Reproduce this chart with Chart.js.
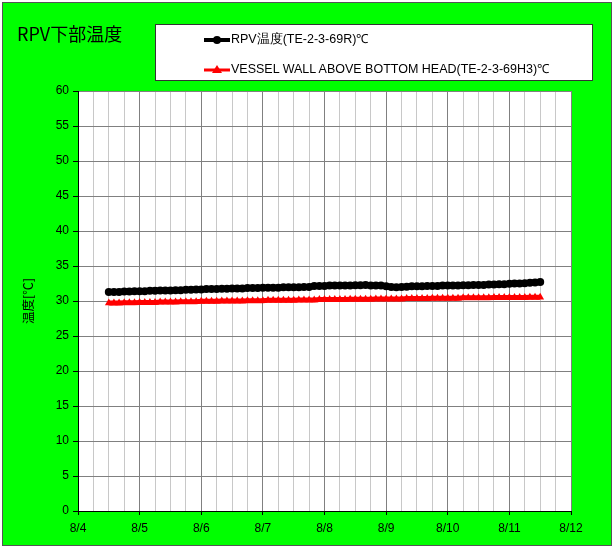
<!DOCTYPE html>
<html>
<head>
<meta charset="utf-8">
<script src="https://cdn.jsdelivr.net/npm/chart.js"></script>
<style>
  body { margin: 0; background: #fff; }
  #wrap { position: absolute; left: 2px; top: 2px; width: 608px; height: 542px; border: 1px solid #555; background: #00ff00; }
  #c { position: absolute; left: -3px; top: -3px; }
  #title { position: absolute; left: 14px; top: 17px; font: 18px "Noto Sans CJK JP", sans-serif; color: #000; }
  #legend { position: absolute; left: 152px; top: 21px; width: 436px; height: 55px; background: #fff; border: 1px solid #333; font: 12.5px "Liberation Sans", Arial, sans-serif; }
  .item { position: absolute; left: 48px; height: 14px; line-height: 14px; white-space: nowrap; }
  .item svg { vertical-align: middle; margin-right: 1px; }
</style>
</head>
<body>
<div id="wrap">
  <canvas id="c" width="614" height="548"></canvas>
  <div id="title">RPV下部温度</div>
  <div id="legend">
    <div class="item" style="top:7px"><svg width="26" height="10"><line x1="0" y1="5" x2="26" y2="5" stroke="#000" stroke-width="4"/><circle cx="13" cy="5" r="4" fill="#000"/></svg>RPV温度(TE-2-3-69R)℃</div>
    <div class="item" style="top:37px"><svg width="26" height="10"><line x1="0" y1="5" x2="26" y2="5" stroke="#f00" stroke-width="3"/><polygon points="13,0 18,8 8,8" fill="#f00"/></svg>VESSEL WALL ABOVE BOTTOM HEAD(TE-2-3-69H3)℃</div>
  </div>
</div>
<script>
// hours since 8/4 0:00, every 2 hours from 8/4 12:00
var startHour = 12;
var stepHour = 2;
var xTickDays = ["8/4", "8/5", "8/6", "8/7", "8/8", "8/9", "8/10", "8/11", "8/12"];

var rpvTemp = [
  31.3, 31.3, 31.3, 31.35, 31.35, 31.4, 31.4, 31.4, 31.45, 31.45, 31.5, 31.5,
  31.5, 31.55, 31.55, 31.6, 31.6, 31.65, 31.65, 31.7, 31.7, 31.7, 31.75, 31.75,
  31.8, 31.8, 31.8, 31.85, 31.85, 31.85, 31.9, 31.9, 31.9, 31.9, 31.95, 31.95,
  31.95, 31.95, 32.0, 32.0, 32.15, 32.15, 32.15, 32.2, 32.2, 32.2, 32.2, 32.2,
  32.25, 32.25, 32.3, 32.2, 32.2, 32.2, 32.1, 32.0, 31.95, 32.0, 32.05, 32.1,
  32.1, 32.1, 32.15, 32.15, 32.15, 32.2, 32.2, 32.2, 32.2, 32.25, 32.25, 32.3,
  32.3, 32.3, 32.35, 32.35, 32.4, 32.4, 32.45, 32.5, 32.5, 32.55, 32.6, 32.65,
  32.7
];
var wallTemp = [
  29.7, 29.7, 29.7, 29.75, 29.75, 29.75, 29.8, 29.8, 29.8, 29.8, 29.85, 29.85,
  29.85, 29.85, 29.9, 29.9, 29.9, 29.9, 29.95, 29.95, 29.95, 29.95, 30.0, 30.0,
  30.0, 30.0, 30.0, 30.05, 30.05, 30.05, 30.05, 30.1, 30.1, 30.1, 30.1, 30.1,
  30.1, 30.15, 30.15, 30.15, 30.15, 30.2, 30.2, 30.2, 30.2, 30.2, 30.2, 30.25,
  30.25, 30.25, 30.25, 30.25, 30.3, 30.3, 30.3, 30.3, 30.3, 30.3, 30.35, 30.35,
  30.35, 30.35, 30.35, 30.4, 30.4, 30.4, 30.4, 30.4, 30.4, 30.45, 30.45, 30.45,
  30.45, 30.45, 30.45, 30.5, 30.5, 30.5, 30.5, 30.5, 30.5, 30.5, 30.55, 30.55,
  30.55
];

function toPoints(arr) {
  return arr.map(function (v, i) {
    return { x: (startHour + i * stepHour) / 24, y: v };
  });
}

var yTitlePlugin = {
  id: 'yTitle',
  afterDraw: function (chart) {
    var ctx = chart.ctx;
    ctx.save();
    ctx.translate(28, (chart.chartArea.top + chart.chartArea.bottom) / 2);
    ctx.rotate(-Math.PI / 2);
    ctx.font = '12.5px "Noto Sans CJK JP"';
    ctx.fillStyle = '#000';
    ctx.textAlign = 'center';
    ctx.textBaseline = 'middle';
    ctx.fillText('温度[℃]', 0, 0);
    ctx.restore();
  }
};

var plotBg = {
  id: 'plotBg',
  beforeDraw: function (chart) {
    var a = chart.chartArea, ctx = chart.ctx;
    ctx.save();
    ctx.fillStyle = '#fff';
    ctx.fillRect(a.left, a.top, a.right - a.left, a.bottom - a.top);
    ctx.restore();
  }
};

new Chart(document.getElementById('c'), {
  type: 'line',
  data: {
    datasets: [
      {
        label: 'RPV温度(TE-2-3-69R)℃',
        data: toPoints(rpvTemp),
        borderColor: '#000',
        backgroundColor: '#000',
        borderWidth: 6,
        pointStyle: 'circle',
        pointRadius: 4,
        pointBorderWidth: 0,
        tension: 0
      },
      {
        label: 'VESSEL WALL ABOVE BOTTOM HEAD(TE-2-3-69H3)℃',
        data: toPoints(wallTemp),
        borderColor: '#f00',
        backgroundColor: '#f00',
        borderWidth: 5,
        pointStyle: 'triangle',
        pointRadius: 4.5,
        pointBorderWidth: 0,
        tension: 0
      }
    ]
  },
  options: {
    responsive: false,
    animation: false,
    layout: { padding: { left: 0, top: 91, right: 43, bottom: 0 } },
    plugins: { legend: { display: false }, tooltip: { enabled: false } },
    scales: {
      x: {
        type: 'linear',
        min: 0,
        max: 8,
        afterFit: function (s) { s.height = 37; },
        afterBuildTicks: function (s) {
          var t = [];
          for (var i = 0; i <= 32; i++) t.push({ value: i / 4 });
          s.ticks = t;
        },
        border: { color: '#000', width: 1 },
        grid: {
          color: function (c) { return c.tick && c.tick.value % 1 === 0 ? '#808080' : '#c8c8c8'; },
          tickColor: function (c) { return c.tick && c.tick.value % 1 === 0 ? '#000' : 'rgba(0,0,0,0)'; },
          tickLength: 4
        },
        ticks: {
          autoSkip: false,
          maxRotation: 0,
          color: '#000',
          padding: 6,
          font: { family: '"Liberation Sans", Arial', size: 12 },
          callback: function (v) { return v % 1 === 0 ? xTickDays[v] : ''; }
        }
      },
      y: {
        min: 0,
        max: 60,
        afterFit: function (s) { s.width = 78; },
        border: { color: '#000', width: 1 },
        grid: { color: '#808080', tickColor: '#000', tickLength: 5 },
        ticks: {
          stepSize: 5,
          color: '#000',
          padding: 4,
          font: { family: '"Liberation Sans", Arial', size: 12 }
        }
      }
    }
  },
  plugins: [plotBg, yTitlePlugin]
});
</script>
</body>
</html>
